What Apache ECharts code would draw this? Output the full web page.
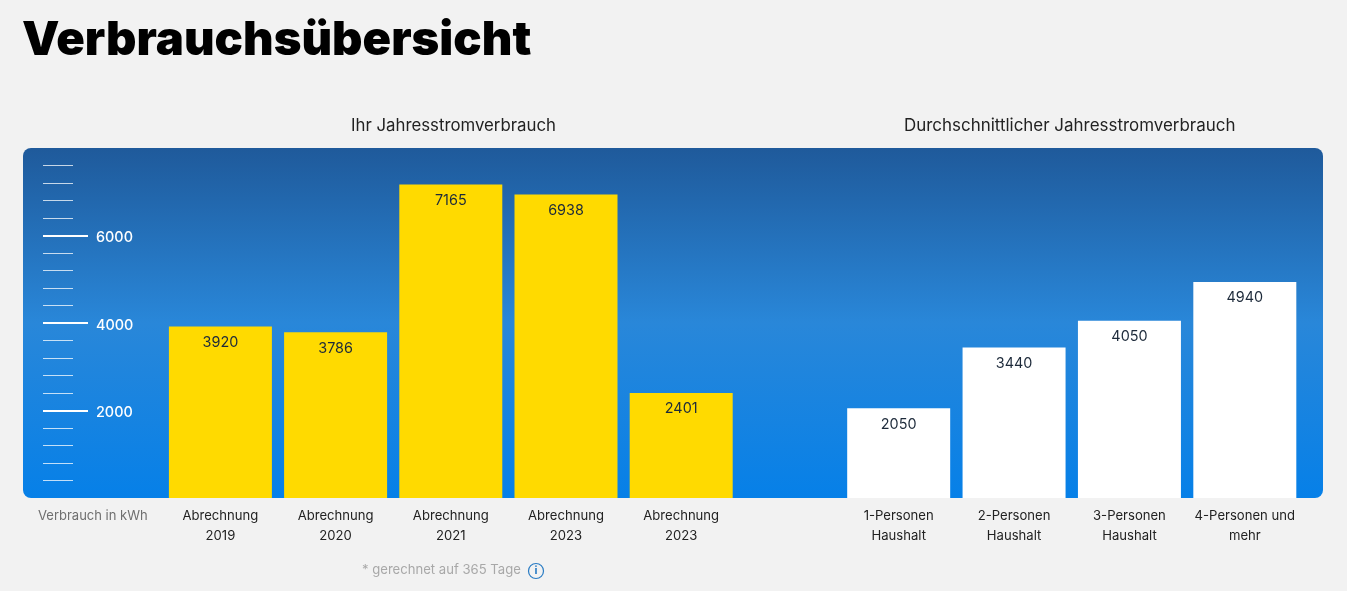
<!DOCTYPE html>
<html><head><meta charset="utf-8">
<style>html,body{margin:0;padding:0;background:#f2f2f2}#c{width:1347px;height:591px}</style>
<script src="https://cdn.jsdelivr.net/npm/echarts@6/dist/echarts.min.js"></script>
</head><body><div id="c"></div>
<script>
const ownCategories = ['Abrechnung\n2019','Abrechnung\n2020','Abrechnung\n2021','Abrechnung\n2023','Abrechnung\n2023'];
const ownValues = [3920,3786,7165,6938,2401];
const avgCategories = ['1-Personen\nHaushalt','2-Personen\nHaushalt','3-Personen\nHaushalt','4-Personen und\nmehr'];
const avgValues = [2050,3440,4050,4940];
const majorTicks = [2000,4000,6000];
const minorTicks = [400,800,1200,1600,2400,2800,3200,3600,4400,4800,5200,5600,6400,6800,7200,7600];
const titleText = 'Verbrauchsübersicht';
const ownTitle = 'Ihr Jahresstromverbrauch';
const avgTitle = 'Durchschnittlicher Jahresstromverbrauch';
const unitText = 'Verbrauch in kWh';
const noteText = '* gerechnet auf 365 Tage';

const F = 'Inter, sans-serif';
const chart = echarts.init(document.getElementById('c'));
const barLabel = {show:true, position:'insideTop', distance:9, color:'#1d2a3a', fontFamily:F, fontSize:14.4};
const xAxisBase = {
  type:'category', axisLine:{show:false}, axisTick:{show:false},
  axisLabel:{color:'#222', fontFamily:F, fontSize:13.1, lineHeight:20, margin:8, interval:0}
};
chart.setOption({
  animation:false,
  backgroundColor:'#f2f2f2',
  title:[
    {text:titleText, left:17, top:12, textStyle:{fontFamily:F, fontWeight:900, fontSize:47.2, color:'#000'}},
    {text:ownTitle, left:346, top:112, textStyle:{fontFamily:F, fontWeight:400, fontSize:16.8, color:'#222'}},
    {text:avgTitle, left:899, top:112, textStyle:{fontFamily:F, fontWeight:400, fontSize:16.95, color:'#222'}}
  ],
  graphic:[
    {type:'rect', z:-10, shape:{x:23,y:148,width:1300,height:350,r:8},
     style:{fill:new echarts.graphic.LinearGradient(0,0,0,1,[
       {offset:0,color:'#1f5a9b'},{offset:.5,color:'#2987d9'},{offset:1,color:'#0680e8'}])}},
    {type:'text', x:38, y:510, style:{text:unitText, fill:'#6f6f6f', font:'13px '+F}},
    {type:'text', x:362, y:564, style:{text:noteText, fill:'#a8a8a8', font:'13.1px '+F}},
    {type:'circle', shape:{cx:536,cy:571,r:7.5}, style:{fill:'none', stroke:'#2a7cc4', lineWidth:1.2}},
    {type:'text', x:536, y:571, style:{text:'i', fill:'#2a7cc4', font:'bold 11px '+F, align:'center', verticalAlign:'middle'}}
  ],
  grid:[
    {left:162.8, width:576, top:148, height:350},
    {left:841, width:461.5, top:148, height:350}
  ],
  xAxis:[
    Object.assign({}, xAxisBase, {gridIndex:0, data:ownCategories}),
    Object.assign({}, xAxisBase, {gridIndex:1, data:avgCategories})
  ],
  yAxis:[
    {gridIndex:0, type:'value', min:0, max:8000, interval:2000, offset:119.8, position:'left',
     axisLine:{show:false}, splitLine:{show:false},
     axisTick:{show:true, inside:true, length:45, customValues:majorTicks, lineStyle:{color:'#fff',width:2}},
     axisLabel:{show:true, inside:true, margin:53, customValues:majorTicks, formatter:v=>String(v), verticalAlign:'top', lineHeight:5, color:'#fff', fontFamily:F, fontWeight:500, fontSize:14.4}},
    {gridIndex:0, type:'value', min:0, max:8000, interval:2000, offset:119.8, position:'left',
     axisLine:{show:false}, splitLine:{show:false},
     axisTick:{show:true, inside:true, length:30, customValues:minorTicks, lineStyle:{color:'rgba(255,255,255,.75)',width:1}},
     axisLabel:{show:false}},
    {gridIndex:1, type:'value', min:0, max:8000, interval:2000, show:false}
  ],
  series:[
    {type:'bar', xAxisIndex:0, yAxisIndex:0, data:ownValues, barWidth:103, itemStyle:{color:'#ffda00'}, label:barLabel},
    {type:'bar', xAxisIndex:1, yAxisIndex:2, data:avgValues, barWidth:103, itemStyle:{color:'#ffffff'}, label:barLabel}
  ]
});
</script></body></html>
